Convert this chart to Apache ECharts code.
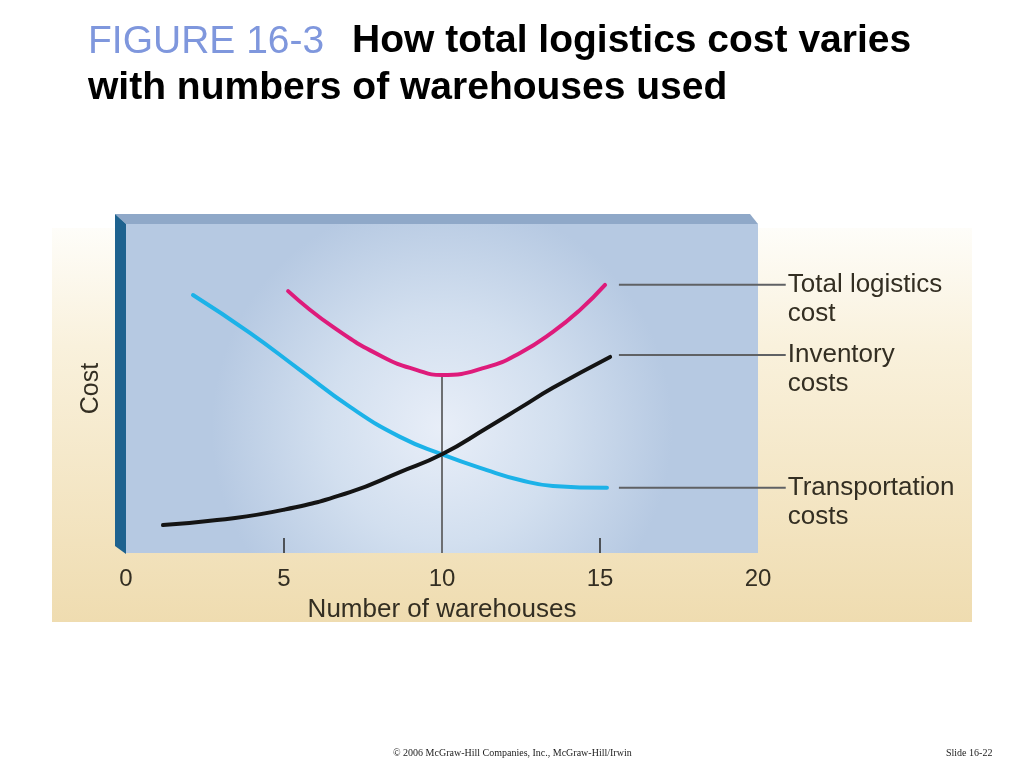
<!DOCTYPE html>
<html>
<head>
<meta charset="utf-8">
<script src="https://cdn.jsdelivr.net/npm/echarts@6/dist/echarts.min.js"></script>
<style>html,body{margin:0;padding:0;background:#fff;}#main{width:1024px;height:768px;}</style>
</head>
<body>
<div id="main"></div>
<script>
// ---- data ----
const xTickValues = [0, 5, 10, 15, 20];
const xAxisName = 'Number of warehouses';
const yAxisName = 'Cost';

const transportX = [2.12, 3.92, 5.51, 7.09, 8.67, 10, 11.42, 12.47, 13.51, 15.22];
const transportY = [78.4, 66.9, 55.6, 44.4, 35.3, 30.0, 25.2, 22.2, 20.4, 19.8];

const inventoryX = [1.17, 2.88, 4.97, 7.09, 8.67, 10, 11.42, 12.47, 13.51, 15.32];
const inventoryY = [8.5, 10.0, 13.1, 18.5, 24.6, 30.0, 38.0, 44.1, 50.2, 59.6];

const totalX = [5.13, 6.55, 8.13, 9.21, 10, 11.42, 12.47, 13.51, 14.37, 15.16];
const totalY = [79.6, 68.7, 59.6, 55.6, 54.1, 56.5, 60.8, 67.2, 73.9, 81.5];

const optimumX = 10;
const optimumCost = 54.1;

const leaderX = [15.6, 20.88];
const leaderY = [81.5, 60.2, 19.8];
const leaderLabels = ['Total logistics\ncost', 'Inventory\ncosts', 'Transportation\ncosts'];

const titleTag = 'FIGURE 16-3';
const titleLine1 = 'How total logistics cost varies';
const titleLine2 = 'with numbers of warehouses used';
const footerLeft = '\u00a9 2006 McGraw-Hill Companies, Inc., McGraw-Hill/Irwin';
const footerRight = 'Slide 16-22';

const zip = (xs, ys) => xs.map((x, i) => [x, ys[i]]);

const chart = echarts.init(document.getElementById('main'), null, {renderer: 'canvas'});
const FONT = 'Liberation Sans, Arial, sans-serif';
const TXT = '#332e22';

function leaderSeries(y, label) {
  return {
    type: 'line', xAxisIndex: 1, yAxisIndex: 1,
    data: [[leaderX[0], y], [leaderX[1], y]],
    clip: false, showSymbol: false, symbol: 'none', silent: true,
    lineStyle: {color: '#5f6164', width: 2}, z: 3,
    endLabel: {
      show: true, formatter: label, fontFamily: FONT, fontSize: 26, lineHeight: 29,
      color: TXT, distance: 2, offset: [0, 14.5]
    }
  };
}

const option = {
  animation: false,
  backgroundColor: '#ffffff',
  graphic: [
    // beige panel
    {type: 'rect', z: -10, shape: {x: 52, y: 228, width: 920, height: 394},
     style: {fill: new echarts.graphic.LinearGradient(0, 0, 0, 1, [
       {offset: 0, color: '#fefdf9'}, {offset: 0.3, color: '#f9f1dc'}, {offset: 1, color: '#efdcb0'}])}},
    // top bevel
    {type: 'polygon', z: 10, shape: {points: [[115, 214], [750, 214], [758, 224], [126, 224]]},
     style: {fill: '#8fa8c8'}},
    // left bevel
    {type: 'polygon', z: 10, shape: {points: [[115, 214], [126, 224], [126, 554], [115, 546]]},
     style: {fill: '#1e628f'}},
    // title
    {type: 'text', left: 88, top: 23, z: 20,
     style: {text: titleTag, font: '39px ' + FONT, fill: '#7f97dd',
             shadowColor: 'rgba(60,60,80,0.55)', shadowOffsetX: 2, shadowOffsetY: 2, shadowBlur: 1}},
    {type: 'text', left: 352, top: 22, z: 20,
     style: {text: titleLine1, font: 'bold 39px ' + FONT, fill: '#000'}},
    {type: 'text', left: 88, top: 69, z: 20,
     style: {text: titleLine2, font: 'bold 39px ' + FONT, fill: '#000'}},
    // footer
    {type: 'text', left: 393, top: 748, z: 20,
     style: {text: footerLeft, font: '10px Liberation Serif, Times New Roman, serif', fill: '#222'}},
    {type: 'text', left: 946, top: 748, z: 20,
     style: {text: footerRight, font: '10px Liberation Serif, Times New Roman, serif', fill: '#222'}}
  ],
  grid: [
    {
      left: 126, top: 224, width: 632, height: 329, show: true, borderWidth: 0,
      backgroundColor: new echarts.graphic.RadialGradient(0.5, 0.62, 0.7, [
        {offset: 0, color: '#e8eef8'}, {offset: 0.5, color: '#d2dfef'}, {offset: 1, color: '#b6c9e2'}])
    },
    {left: 126, top: 224, width: 661, height: 329, show: false}
  ],
  xAxis: [
    {
      type: 'value', min: 0, max: 20, interval: 5, gridIndex: 0,
      name: xAxisName, nameLocation: 'middle', nameGap: 44,
      nameTextStyle: {fontFamily: FONT, fontSize: 26, color: TXT},
      axisLine: {show: false},
      splitLine: {show: false},
      axisTick: {show: true, inside: true, length: 15, customValues: [5, 10, 15],
                 lineStyle: {color: '#4e5257', width: 2}},
      axisLabel: {fontFamily: FONT, fontSize: 24, color: TXT, margin: 14,
                  customValues: xTickValues}
    },
    {type: 'value', min: 0, max: 20.92, gridIndex: 1, show: false}
  ],
  yAxis: [
    {
      type: 'value', min: 0, max: 100, gridIndex: 0,
      name: yAxisName, nameLocation: 'middle', nameGap: 22, nameRotate: 90,
      nameTextStyle: {fontFamily: FONT, fontSize: 25, color: TXT},
      axisLine: {show: false}, axisTick: {show: false}, axisLabel: {show: false},
      splitLine: {show: false}
    },
    {type: 'value', min: 0, max: 100, gridIndex: 1, show: false}
  ],
  series: [
    {type: 'line', name: 'optimum', data: [[optimumX, 0], [optimumX, optimumCost]],
     showSymbol: false, symbol: 'none', lineStyle: {color: '#6d6f72', width: 2}, z: 2},
    {type: 'line', name: 'Transportation costs', data: zip(transportX, transportY), smooth: 0.5,
     showSymbol: false, symbol: 'none', lineStyle: {color: '#1cb2e8', width: 4, cap: 'round'}, z: 4},
    {type: 'line', name: 'Inventory costs', data: zip(inventoryX, inventoryY), smooth: 0.5,
     showSymbol: false, symbol: 'none', lineStyle: {color: '#141414', width: 4, cap: 'round'}, z: 5},
    {type: 'line', name: 'Total logistics cost', data: zip(totalX, totalY), smooth: 0.5,
     showSymbol: false, symbol: 'none', lineStyle: {color: '#de1b7b', width: 4, cap: 'round'}, z: 4},
    leaderSeries(leaderY[0], leaderLabels[0]),
    leaderSeries(leaderY[1], leaderLabels[1]),
    leaderSeries(leaderY[2], leaderLabels[2])
  ]
};
chart.setOption(option);
</script>
</body>
</html>
